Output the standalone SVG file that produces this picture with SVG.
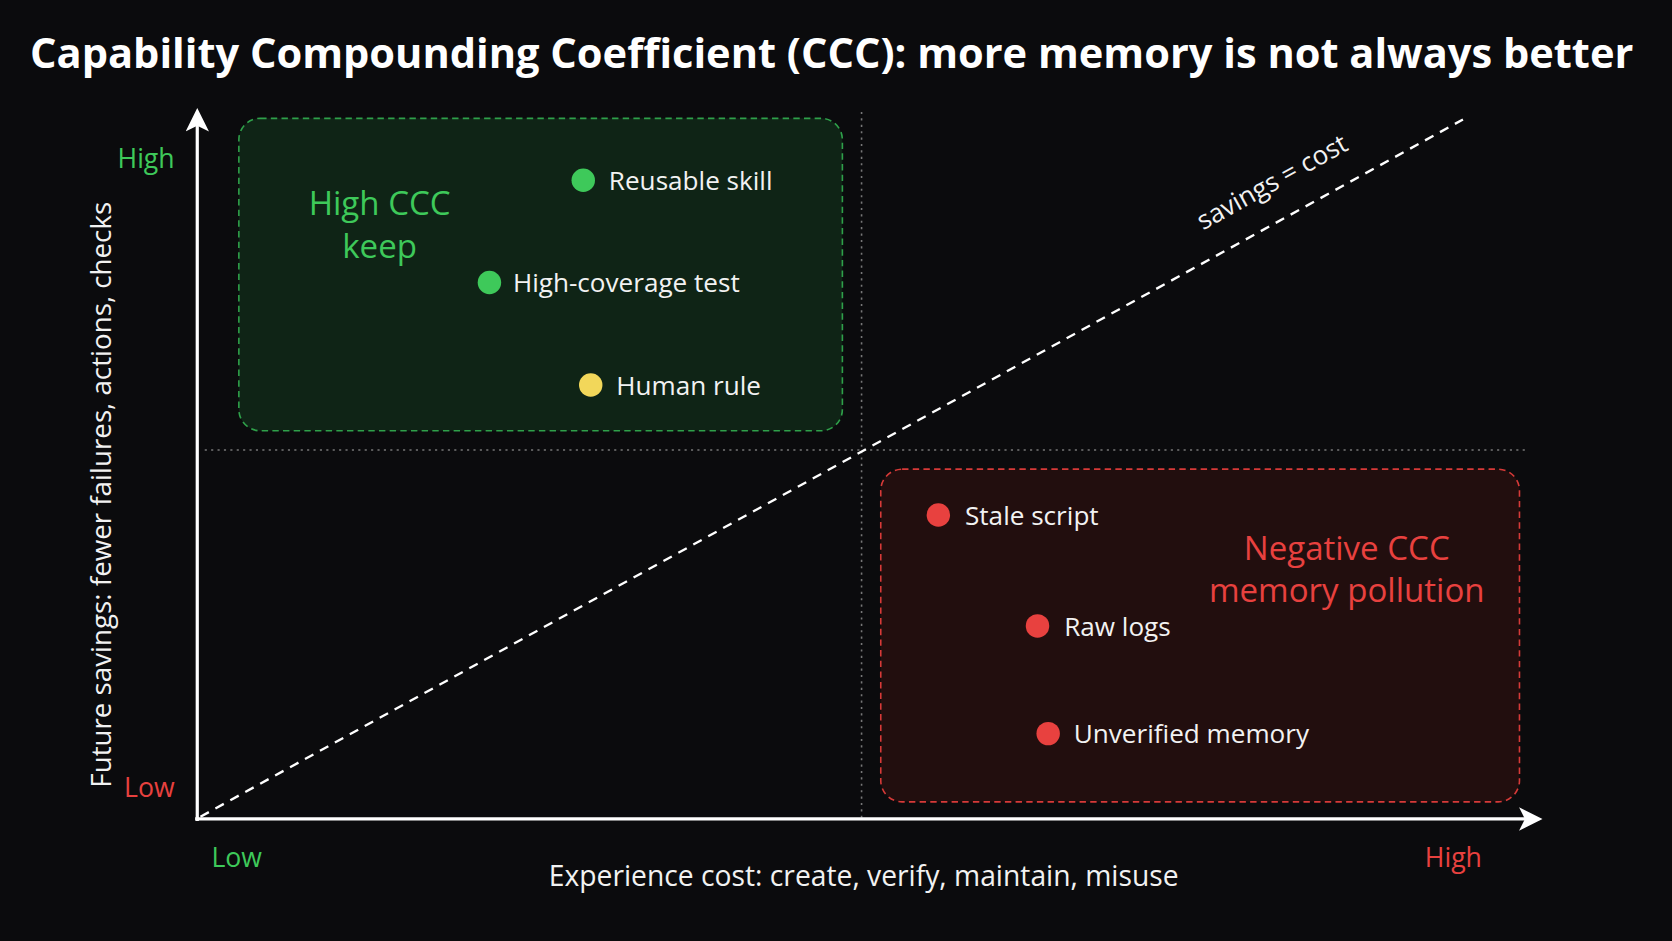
<svg xmlns="http://www.w3.org/2000/svg" width="1672" height="941" viewBox="0 0 1672 941">
<defs>
<style>
text{font-family:"Open Sans","Noto Sans","Liberation Sans",sans-serif}
.lbl{fill:#f2f2f2;font-size:24.5px}
.g{fill:#3ec95a}.r{fill:#e8413f}
.big{font-size:31px;font-weight:500;text-anchor:middle}
.ax{font-size:25px;text-anchor:middle}
</style>
<marker id="ah" viewBox="0 0 10 10" refX="7" refY="5" markerWidth="22" markerHeight="22" orient="auto" markerUnits="userSpaceOnUse"><path d="M0,0 L10,5 L0,10 L2.5,5 z" fill="#fff"/></marker>
</defs>
<rect width="1672" height="941" fill="#0b0b0d"/>
<g transform="scale(1.0663)">
<text x="780" y="64" text-anchor="middle" fill="#fff" font-size="39" font-weight="700">Capability Compounding Coefficient (CCC): more memory is not always better</text>
<g id="zones">
<g id="keep"><rect x="224" y="111" width="566" height="293" rx="20" fill="#0f2416" stroke="#2fa04a" stroke-width="1.5" stroke-dasharray="6 4"/>
<text class="big g" x="356" y="202">High CCC</text><text class="big g" x="356" y="242">keep</text></g>
<g id="pollution"><rect x="826" y="440" width="599" height="312" rx="20" fill="#220e0e" stroke="#d63a38" stroke-width="1.5" stroke-dasharray="6 4"/>
<text class="big r" x="1263" y="525">Negative CCC</text><text class="big r" x="1263" y="565">memory pollution</text></g>
</g>
<g id="connectors">
<line x1="808" y1="105" x2="808" y2="768" stroke="#777" stroke-width="1.5" stroke-dasharray="2 4"/>
<line x1="192" y1="422" x2="1432" y2="422" stroke="#777" stroke-width="1.5" stroke-dasharray="2 4"/>
<line x1="188" y1="766" x2="1372" y2="112" stroke="#fff" stroke-width="2.2" stroke-dasharray="9 7"/>
<line x1="185" y1="770" x2="185" y2="108" stroke="#fff" stroke-width="3" marker-end="url(#ah)"/>
<line x1="183" y1="768" x2="1440" y2="768" stroke="#fff" stroke-width="3" marker-end="url(#ah)"/>
</g>
<text class="lbl" x="1197" y="178" text-anchor="middle" transform="rotate(-29 1197 178)" font-size="22">savings = cost</text>
<g id="reusable"><circle cx="547" cy="169" r="11" fill="#3ec95a"/><text class="lbl" x="571" y="178">Reusable skill</text></g>
<g id="coverage"><circle cx="459" cy="265" r="11" fill="#3ec95a"/><text class="lbl" x="481" y="274">High-coverage test</text></g>
<g id="human"><circle cx="554" cy="361" r="11" fill="#f2d75a"/><text class="lbl" x="578" y="370">Human rule</text></g>
<g id="stale"><circle cx="880" cy="483" r="11" fill="#e8413f"/><text class="lbl" x="905" y="492">Stale script</text></g>
<g id="rawlogs"><circle cx="973" cy="587" r="11" fill="#e8413f"/><text class="lbl" x="998" y="596">Raw logs</text></g>
<g id="unverified"><circle cx="983" cy="688" r="11" fill="#e8413f"/><text class="lbl" x="1007" y="697">Unverified memory</text></g>
<text class="ax g" x="137" y="158">High</text>
<text class="ax r" x="140" y="747">Low</text>
<text class="ax g" x="222" y="813">Low</text>
<text class="ax r" x="1363" y="813">High</text>
<text x="810" y="831" text-anchor="middle" fill="#f2f2f2" font-size="26.5">Experience cost: create, verify, maintain, misuse</text>
<text x="95" y="464" text-anchor="middle" fill="#f2f2f2" font-size="26" transform="rotate(-90 95 464)" dy="9">Future savings: fewer failures, actions, checks</text>
</g>
</svg>
